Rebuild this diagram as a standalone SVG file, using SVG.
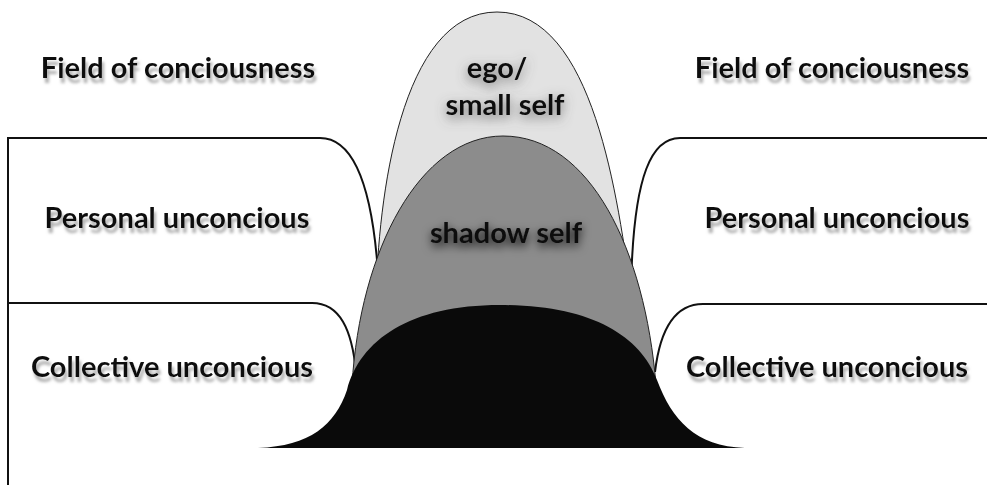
<svg xmlns="http://www.w3.org/2000/svg" width="987" height="485" viewBox="0 0 987 485">
<defs>
<filter id="ts" x="-10%" y="-30%" width="120%" height="180%">
<feGaussianBlur in="SourceAlpha" stdDeviation="1.5" result="b"/>
<feOffset in="b" dx="2" dy="5" result="o"/>
<feFlood flood-color="#9a9a9a" flood-opacity="0.8"/>
<feComposite in2="o" operator="in" result="s"/>
<feMerge><feMergeNode in="s"/><feMergeNode in="SourceGraphic"/></feMerge>
</filter>
<filter id="glow" x="-30%" y="-60%" width="160%" height="220%">
<feGaussianBlur in="SourceAlpha" stdDeviation="6" result="b"/>
<feOffset in="b" dx="0" dy="4" result="o"/>
<feFlood flood-color="#555" flood-opacity="0.8"/>
<feComposite in2="o" operator="in" result="s"/>
<feMerge><feMergeNode in="s"/><feMergeNode in="SourceGraphic"/></feMerge>
</filter>
<filter id="glow2" x="-30%" y="-80%" width="160%" height="260%">
<feGaussianBlur in="SourceAlpha" stdDeviation="5" result="b"/>
<feOffset in="b" dx="0" dy="4" result="o"/>
<feFlood flood-color="#000" flood-opacity="0.9"/>
<feComposite in2="o" operator="in" result="s"/>
<feMerge><feMergeNode in="s"/><feMergeNode in="SourceGraphic"/></feMerge>
</filter>
</defs>
<style>
.lbl{font-family:Lato,"Open Sans","Liberation Sans",sans-serif;font-weight:bold;font-size:29px;fill:#111;text-anchor:middle}
.panel{fill:none;stroke:#111;stroke-width:2}
.shape{stroke:#222;stroke-width:1}
</style>
<rect width="987" height="485" fill="#fff"/>
<g id="connectors">
<path class="panel" d="M8 485 L8 138 L320 138 C352 138 370 180 377 260 L380 300"/>
<path class="panel" d="M8 303 L312 303 C340 303 352 330 356 372"/>
<path class="panel" d="M987 138 L680 138 C650 138 636 180 632 260 L630 300"/>
<path class="panel" d="M987 304 L703 304 C675 304 660 330 655 372"/>
</g>
<g id="ego">
<path class="shape" fill="#e2e2e2" d="M376 300 C378 200 400 12 497 12 C594 12 618 200 632 300 Z"/>
<text class="lbl" x="497" y="78" filter="url(#glow)">ego/</text>
<text class="lbl" x="505" y="115" filter="url(#glow)">small self</text>
</g>
<g id="shadow">
<path class="shape" fill="#8c8c8c" d="M352 385 C360 250 420 136 503 136 C590 136 645 250 656 385 Z"/>
<text class="lbl" x="506" y="243" filter="url(#glow2)">shadow self</text>
</g>
<g id="collective">
<path fill="#0a0a0a" d="M258 448 C310 446 335 425 347 390 C360 340 410 305 500 305 C590 305 640 335 657 380 C672 420 695 446 745 448 Z"/>
</g>
<g id="labels">
<text class="lbl" x="178" y="78" filter="url(#ts)">Field of conciousness</text>
<text class="lbl" x="832" y="78" filter="url(#ts)">Field of conciousness</text>
<text class="lbl" x="177" y="228" filter="url(#ts)">Personal unconcious</text>
<text class="lbl" x="837" y="228" filter="url(#ts)">Personal unconcious</text>
<text class="lbl" x="172" y="377" filter="url(#ts)">Collective unconcious</text>
<text class="lbl" x="827" y="377" filter="url(#ts)">Collective unconcious</text>
</g>
</svg>
